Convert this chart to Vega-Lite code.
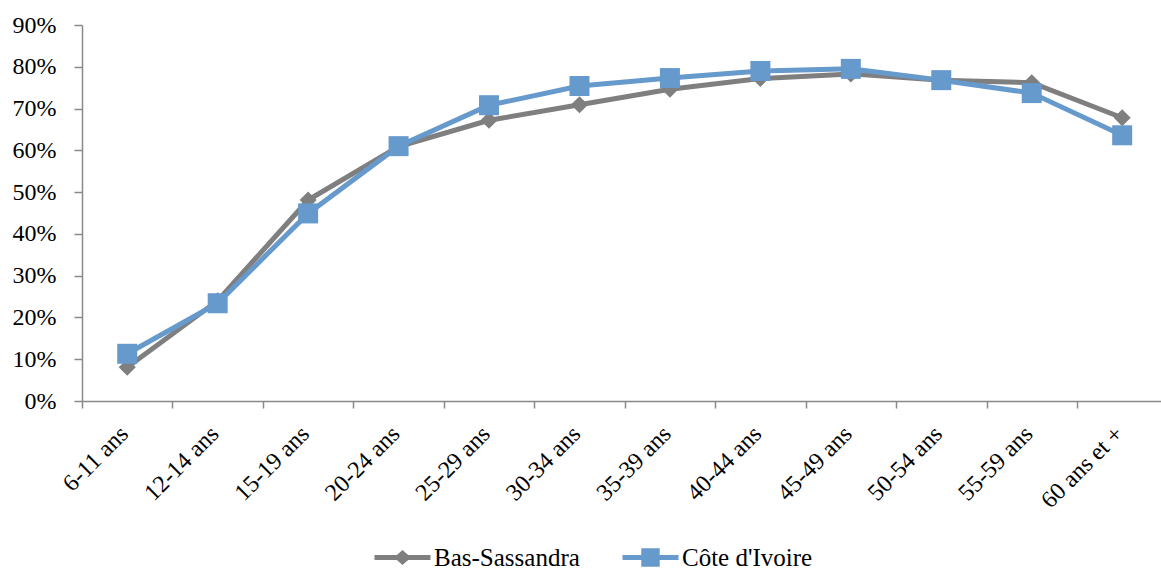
{
  "$schema": "https://vega.github.io/schema/vega-lite/v6.json",
  "autosize": {"type": "none"},
  "padding": {"left": 82, "top": 25, "right": 0, "bottom": 169},
  "width": 1079,
  "height": 376,
  "background": "white",
  "config": {
    "view": {"stroke": null},
    "font": "Liberation Serif",
    "axis": {"labelFont": "Liberation Serif", "labelColor": "black", "domainColor": "#898989", "tickColor": "#898989", "domainWidth": 1.5, "tickWidth": 1.5, "grid": false, "title": null},
    "legend": {"orient": "none", "direction": "horizontal", "title": null, "symbolSize": 400, "labelFontSize": 25, "labelFont": "Liberation Serif", "labelColor": "black", "labelOffset": 19, "padding": 0, "labelLimit": 400, "symbolStrokeWidth": 0, "symbolOpacity": 1}
  },
  "data": {
    "values": [
      {"age": "6-11 ans", "series": "Bas-Sassandra", "value": 0.081},
      {"age": "12-14 ans", "series": "Bas-Sassandra", "value": 0.240},
      {"age": "15-19 ans", "series": "Bas-Sassandra", "value": 0.481},
      {"age": "20-24 ans", "series": "Bas-Sassandra", "value": 0.609},
      {"age": "25-29 ans", "series": "Bas-Sassandra", "value": 0.672},
      {"age": "30-34 ans", "series": "Bas-Sassandra", "value": 0.709},
      {"age": "35-39 ans", "series": "Bas-Sassandra", "value": 0.746},
      {"age": "40-44 ans", "series": "Bas-Sassandra", "value": 0.772},
      {"age": "45-49 ans", "series": "Bas-Sassandra", "value": 0.783},
      {"age": "50-54 ans", "series": "Bas-Sassandra", "value": 0.768},
      {"age": "55-59 ans", "series": "Bas-Sassandra", "value": 0.762},
      {"age": "60 ans et +", "series": "Bas-Sassandra", "value": 0.678},
      {"age": "6-11 ans", "series": "Côte d'Ivoire", "value": 0.113},
      {"age": "12-14 ans", "series": "Côte d'Ivoire", "value": 0.234},
      {"age": "15-19 ans", "series": "Côte d'Ivoire", "value": 0.449},
      {"age": "20-24 ans", "series": "Côte d'Ivoire", "value": 0.610},
      {"age": "25-29 ans", "series": "Côte d'Ivoire", "value": 0.708},
      {"age": "30-34 ans", "series": "Côte d'Ivoire", "value": 0.754},
      {"age": "35-39 ans", "series": "Côte d'Ivoire", "value": 0.773},
      {"age": "40-44 ans", "series": "Côte d'Ivoire", "value": 0.790},
      {"age": "45-49 ans", "series": "Côte d'Ivoire", "value": 0.795},
      {"age": "50-54 ans", "series": "Côte d'Ivoire", "value": 0.768},
      {"age": "55-59 ans", "series": "Côte d'Ivoire", "value": 0.737},
      {"age": "60 ans et +", "series": "Côte d'Ivoire", "value": 0.636}
    ]
  },
  "encoding": {
    "x": {
      "field": "age", "type": "nominal", "sort": null,
      "scale": {"type": "band", "paddingInner": 0, "paddingOuter": 0, "range": [0, 1085.4]},
      "axis": {"labelAngle": -45, "labelAlign": "right", "labelBaseline": "middle", "labelFontSize": 24, "labelPadding": 22, "labelOffset": -3, "tickSize": 7, "tickBand": "extent", "labelOverlap": false}
    },
    "y": {
      "field": "value", "type": "quantitative",
      "scale": {"domain": [0, 0.9], "nice": false, "zero": true},
      "axis": {"values": [0, 0.1, 0.2, 0.3, 0.4, 0.5, 0.6, 0.7, 0.8, 0.9], "format": ".0%", "labelFontSize": 24, "tickSize": 8, "labelPadding": 18}
    }
  },
  "layer": [
    {
      "transform": [{"filter": {"field": "series", "equal": "Bas-Sassandra"}}],
      "encoding": {
        "color": {
          "field": "series", "type": "nominal",
          "scale": {"domain": ["Bas-Sassandra"], "range": ["#7f7f7f"]},
          "legend": {"legendX": 308, "legendY": 520, "labelFont": "Liberation Serif", "labelFontSize": 25, "symbolType": "M-2.8,-0.25L2.8,-0.25L2.8,0.25L-2.8,0.25ZM0,-0.75L0.85,0L0,0.75L-0.85,0Z", "symbolFillColor": "#7f7f7f"}
        }
      },
      "layer": [
        {"mark": {"type": "line", "strokeWidth": 5}},
        {"mark": {"type": "point", "shape": "diamond", "filled": true, "size": 290, "opacity": 1}}
      ]
    },
    {
      "transform": [{"filter": {"field": "series", "equal": "Côte d'Ivoire"}}],
      "encoding": {
        "color": {
          "field": "series", "type": "nominal",
          "scale": {"domain": ["Côte d'Ivoire"], "range": ["#6699cc"]},
          "legend": {"legendX": 556, "legendY": 520, "labelFont": "Liberation Serif", "labelFontSize": 25, "symbolType": "M-2.8,-0.25L2.8,-0.25L2.8,0.25L-2.8,0.25ZM-0.92,-0.92L0.92,-0.92L0.92,0.92L-0.92,0.92Z", "symbolFillColor": "#6699cc"}
        }
      },
      "layer": [
        {"mark": {"type": "line", "strokeWidth": 5}},
        {"mark": {"type": "point", "shape": "square", "filled": true, "size": 400, "opacity": 1}}
      ]
    }
  ],
  "resolve": {"scale": {"color": "independent"}, "legend": {"color": "independent"}}
}
